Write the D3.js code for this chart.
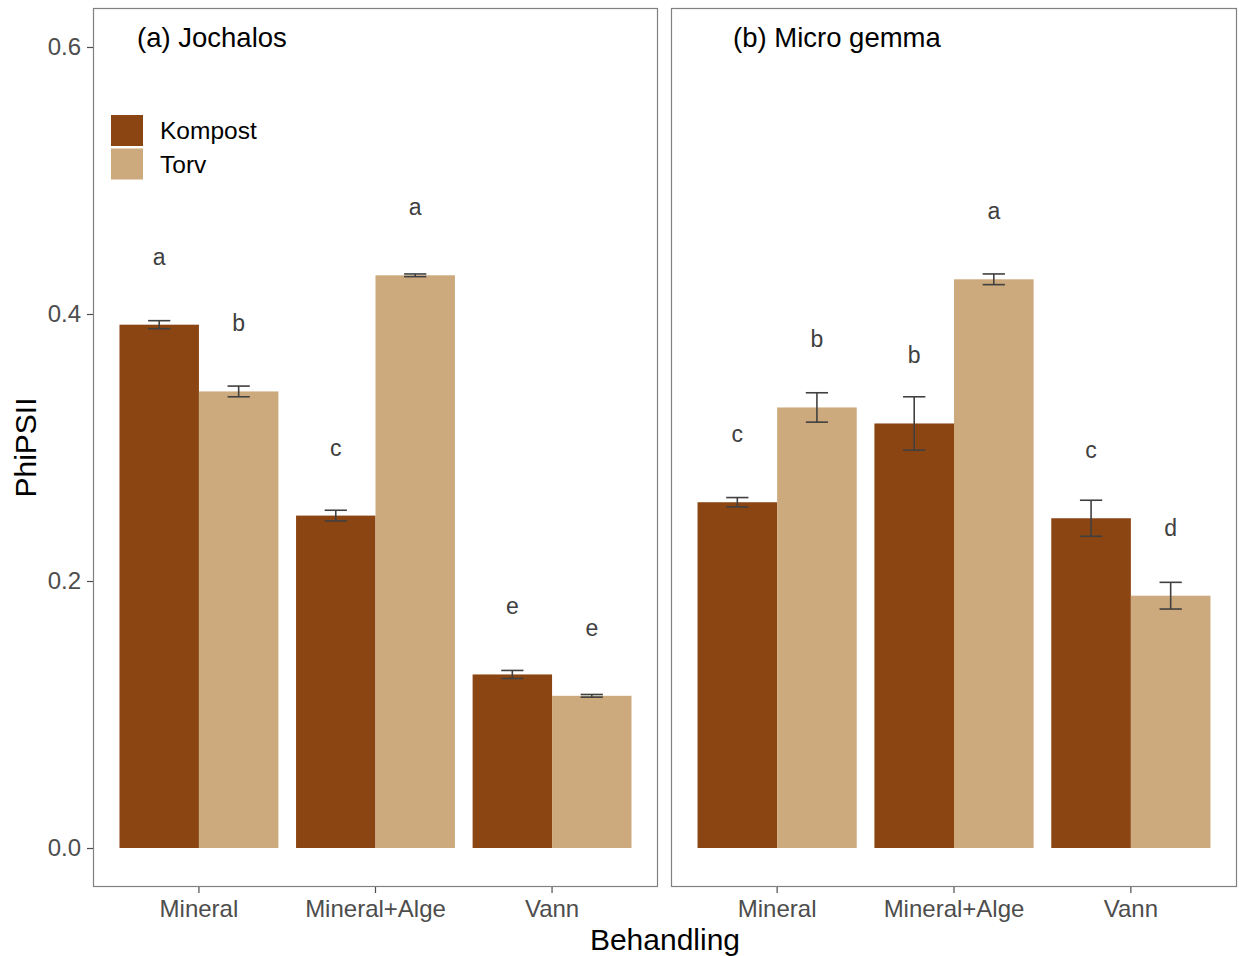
<!DOCTYPE html>
<html>
<head>
<meta charset="utf-8">
<script src="https://cdn.jsdelivr.net/npm/d3@7"></script>
<style>
  html, body { margin: 0; padding: 0; background: #fff; }
  svg { display: block; font-family: "Liberation Sans", Arial, sans-serif; }
</style>
</head>
<body>
<svg id="chart" width="1239" height="956"></svg>
<script>
// Treatments and substrates
const categories = ["Mineral", "Mineral+Alge", "Vann"];
const substrates = ["Kompost", "Torv"];
const substrateColors = ["#8B4513", "#CDAA7D"];
const yTicks = [0.0, 0.2, 0.4, 0.6];

// (a) Jochalos: means, standard errors and significance letters
const jochalosKompost = [0.392, 0.249, 0.130];
const jochalosTorv = [0.342, 0.429, 0.114];
const jochalosKompostSE = [0.003, 0.004, 0.003];
const jochalosTorvSE = [0.004, 0.001, 0.001];
const jochalosKompostLetters = ["a", "c", "e"];
const jochalosTorvLetters = ["b", "a", "e"];

// (b) Micro gemma
const microKompost = [0.259, 0.318, 0.247];
const microTorv = [0.330, 0.426, 0.189];
const microKompostSE = [0.0035, 0.020, 0.0135];
const microTorvSE = [0.011, 0.004, 0.010];
const microKompostLetters = ["c", "b", "c"];
const microTorvLetters = ["b", "a", "d"];

const panels = [
  { title: "(a) Jochalos", left: 93, right: 658, titleX: 137, showLegend: true,
    series: [
      { values: jochalosKompost, se: jochalosKompostSE, letters: jochalosKompostLetters },
      { values: jochalosTorv, se: jochalosTorvSE, letters: jochalosTorvLetters }
    ] },
  { title: "(b) Micro gemma", left: 671, right: 1237, titleX: 733, showLegend: false,
    series: [
      { values: microKompost, se: microKompostSE, letters: microKompostLetters },
      { values: microTorv, se: microTorvSE, letters: microTorvLetters }
    ] }
];

const svg = d3.select("#chart");
const panelTop = 8, panelBottom = 887;
const y = d3.scaleLinear().domain([0, 0.6]).range([848, 47]);
const color = d3.scaleOrdinal().domain(substrates).range(substrateColors);
const letterOffset = 0.045;

panels.forEach((p) => {
  const x = d3.scaleBand().domain(categories).range([p.left, p.right])
    .paddingInner(0.1).paddingOuter(0.15);
  const xs = d3.scaleBand().domain(substrates).range([0, x.bandwidth()]).padding(0);

  const g = svg.append("g");

  // bars
  p.series.forEach((s, si) => {
    const sub = substrates[si];
    categories.forEach((c, ci) => {
      const x0 = x(c) + xs(sub);
      g.append("rect")
        .attr("x", x0).attr("y", y(s.values[ci]))
        .attr("width", xs.bandwidth())
        .attr("height", y(0) - y(s.values[ci]))
        .attr("fill", color(sub));
    });
  });

  // error bars
  p.series.forEach((s, si) => {
    const sub = substrates[si];
    categories.forEach((c, ci) => {
      const cx = x(c) + xs(sub) + xs.bandwidth() / 2;
      const hi = y(s.values[ci] + s.se[ci]);
      const lo = y(s.values[ci] - s.se[ci]);
      const half = xs.bandwidth() * 0.14;
      const eg = g.append("g").attr("stroke", "#404040").attr("stroke-width", 1.6).attr("fill", "none");
      eg.append("line").attr("x1", cx).attr("x2", cx).attr("y1", hi).attr("y2", lo);
      eg.append("line").attr("x1", cx - half).attr("x2", cx + half).attr("y1", hi).attr("y2", hi);
      eg.append("line").attr("x1", cx - half).attr("x2", cx + half).attr("y1", lo).attr("y2", lo);
    });
  });

  // significance letters
  p.series.forEach((s, si) => {
    const sub = substrates[si];
    categories.forEach((c, ci) => {
      const cx = x(c) + xs(sub) + xs.bandwidth() / 2;
      g.append("text")
        .attr("x", cx).attr("y", y(s.values[ci] + letterOffset))
        .attr("text-anchor", "middle")
        .attr("font-size", 23).attr("fill", "#404040")
        .text(s.letters[ci]);
    });
  });

  // panel border
  g.append("rect")
    .attr("x", p.left + 0.5).attr("y", panelTop + 0.5)
    .attr("width", p.right - p.left - 1).attr("height", panelBottom - panelTop - 1)
    .attr("fill", "none").attr("stroke", "#808080").attr("stroke-width", 1.2);

  // panel title
  g.append("text")
    .attr("x", p.titleX).attr("y", 47)
    .attr("font-size", 27.5).attr("fill", "#000")
    .text(p.title);

  // x axis
  const xAxis = svg.append("g").attr("transform", `translate(0,${panelBottom})`)
    .call(d3.axisBottom(x).tickSize(6).tickPadding(6));
  xAxis.select(".domain").remove();
  xAxis.selectAll(".tick line").attr("stroke", "#4d4d4d").attr("stroke-width", 1.2);
  xAxis.selectAll(".tick text").attr("fill", "#4d4d4d").attr("font-size", 24)
    .attr("font-family", "Liberation Sans, Arial, sans-serif").attr("dy", "0.76em");

  // legend
  if (p.showLegend) {
    const lg = g.append("g");
    substrates.forEach((sub, i) => {
      lg.append("rect")
        .attr("x", 111).attr("y", 115 + i * 33.5)
        .attr("width", 32).attr("height", 31)
        .attr("fill", color(sub));
      lg.append("text")
        .attr("x", 160).attr("y", 139 + i * 33.5)
        .attr("font-size", 24.5).attr("fill", "#000")
        .text(sub);
    });
  }
});

// y axis (left panel only)
const yAxis = svg.append("g").attr("transform", "translate(93,0)")
  .call(d3.axisLeft(y).tickValues(yTicks).tickFormat(d3.format(".1f")).tickSize(6).tickPadding(6));
yAxis.select(".domain").remove();
yAxis.selectAll(".tick line").attr("stroke", "#4d4d4d").attr("stroke-width", 1.2);
yAxis.selectAll(".tick text").attr("fill", "#4d4d4d").attr("font-size", 24)
  .attr("font-family", "Liberation Sans, Arial, sans-serif");

// axis titles
svg.append("text")
  .attr("x", 665).attr("y", 950)
  .attr("text-anchor", "middle").attr("font-size", 30).attr("fill", "#000")
  .text("Behandling");

svg.append("text")
  .attr("transform", "translate(36,447.5) rotate(-90)")
  .attr("text-anchor", "middle").attr("font-size", 30).attr("fill", "#000")
  .text("PhiPSII");
</script>
</body>
</html>
